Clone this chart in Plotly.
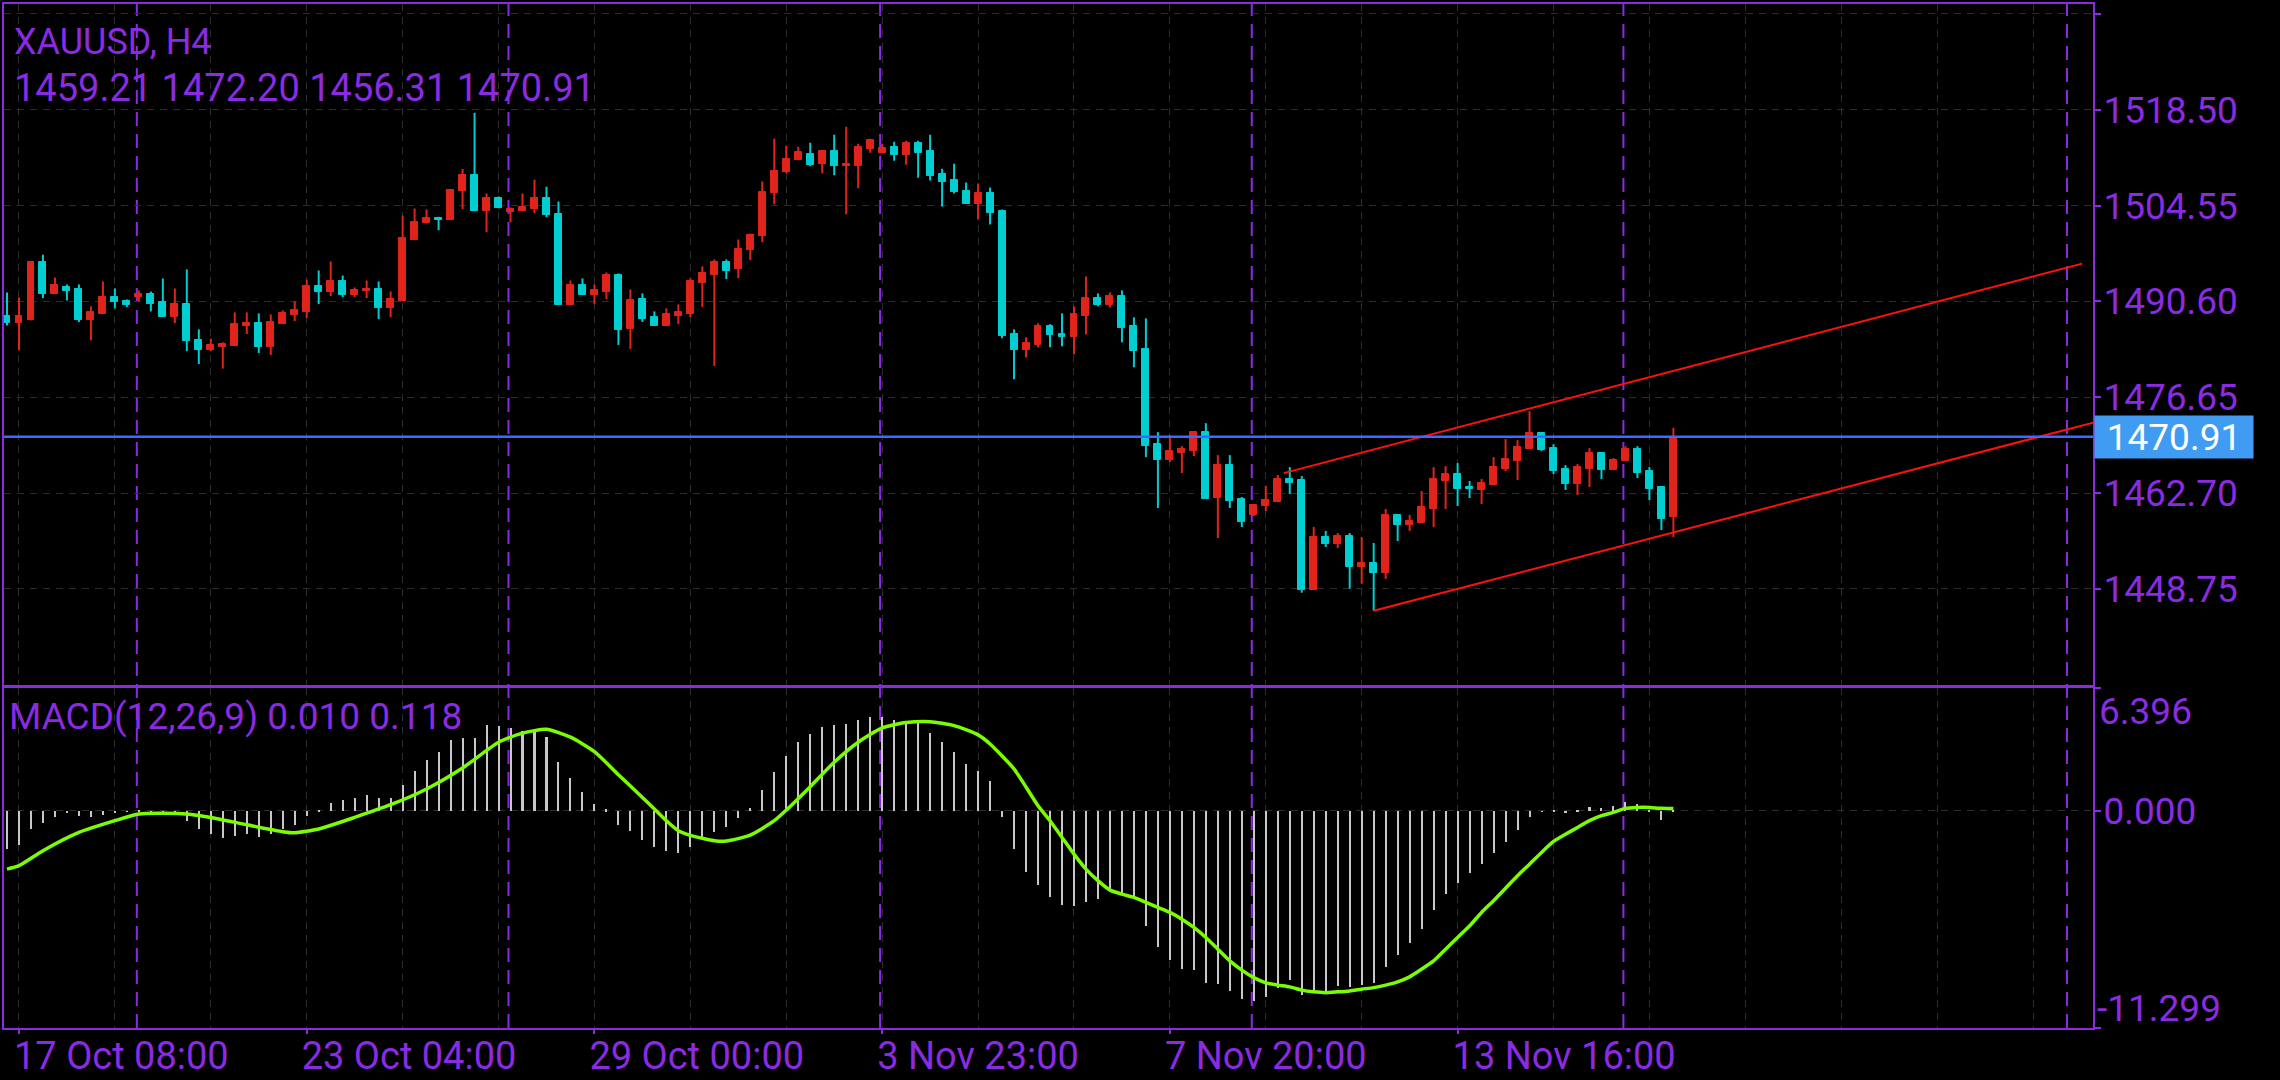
import plotly.graph_objects as go

# XAUUSD H4 candles, bar index 0..139
opens = [1488.42, 1487.45, 1487.93, 1496.41, 1491.66, 1492.73, 1492.34, 1487.83, 1488.76, 1491.18,
         1490.69, 1491.23, 1491.61, 1490.45, 1488.32, 1490.16, 1484.93, 1483.52, 1483.96, 1484.11,
         1487.01, 1487.40, 1483.96, 1487.30, 1488.61, 1489.05, 1492.78, 1491.95, 1493.50, 1491.52,
         1492.15, 1492.34, 1489.63, 1490.64, 1499.51, 1501.98, 1502.81, 1502.42, 1506.64, 1509.06,
         1503.73, 1505.72, 1503.58, 1503.73, 1504.02, 1505.72, 1503.39, 1490.07, 1492.93, 1491.52,
         1491.91, 1494.38, 1486.58, 1490.89, 1488.28, 1487.02, 1488.47, 1488.76, 1493.27, 1494.43,
         1496.27, 1495.30, 1498.06, 1500.10, 1506.35, 1509.40, 1511.14, 1512.11, 1510.56, 1512.55,
         1510.27, 1510.27, 1512.84, 1512.26, 1513.13, 1511.96, 1513.71, 1512.55, 1509.20, 1508.33,
         1506.73, 1504.84, 1506.44, 1503.83, 1485.81, 1483.48, 1484.21, 1486.97, 1485.81, 1485.37,
         1488.42, 1491.04, 1490.02, 1491.33, 1486.97, 1483.63, 1469.82, 1467.50, 1468.51, 1468.80,
         1471.57, 1461.97, 1466.77, 1461.83, 1459.50, 1460.81, 1461.39, 1464.74, 1464.59, 1448.60,
         1456.31, 1455.29, 1456.45, 1451.95, 1452.53, 1451.08, 1459.50, 1458.05, 1458.34, 1460.38,
         1464.45, 1465.46, 1463.57, 1463.14, 1463.86, 1466.19, 1467.35, 1469.10, 1471.42, 1469.24,
         1466.19, 1464.01, 1466.19, 1468.51, 1466.04, 1467.35, 1469.10, 1465.90, 1463.57, 1459.21]
highs = [1491.90, 1491.18, 1496.41, 1497.38, 1494.08, 1493.07, 1493.07, 1489.87, 1493.50, 1492.49,
         1490.89, 1492.19, 1492.05, 1493.94, 1492.49, 1495.25, 1486.53, 1485.17, 1484.64, 1489.00,
         1489.00, 1488.85, 1488.71, 1489.29, 1490.60, 1493.79, 1495.10, 1496.41, 1494.37, 1492.63,
         1493.65, 1493.50, 1492.05, 1503.09, 1504.11, 1503.97, 1502.91, 1506.98, 1509.88, 1518.07,
         1506.30, 1505.86, 1504.26, 1506.30, 1508.33, 1507.31, 1505.13, 1493.65, 1493.95, 1493.07,
         1494.82, 1494.67, 1492.35, 1491.77, 1489.15, 1489.59, 1490.17, 1493.95, 1495.69, 1496.71,
         1496.71, 1499.61, 1500.48, 1508.04, 1514.29, 1513.27, 1513.13, 1513.71, 1512.55, 1514.87,
         1516.03, 1513.56, 1514.29, 1513.56, 1513.85, 1514.00, 1514.00, 1514.87, 1509.93, 1510.66,
         1507.90, 1507.75, 1507.17, 1503.97, 1486.53, 1485.37, 1487.41, 1487.26, 1488.86, 1489.88,
         1494.24, 1491.77, 1491.91, 1492.20, 1488.28, 1488.13, 1471.57, 1471.13, 1469.53, 1471.71,
         1472.87, 1468.22, 1468.22, 1462.12, 1461.10, 1463.72, 1465.32, 1466.48, 1465.17, 1457.76,
         1457.18, 1456.89, 1456.89, 1456.31, 1455.44, 1460.38, 1459.50, 1459.50, 1462.99, 1466.48,
         1466.62, 1467.06, 1464.45, 1464.74, 1467.93, 1470.55, 1470.40, 1474.62, 1471.57, 1469.82,
         1466.77, 1466.92, 1469.24, 1468.51, 1467.79, 1469.53, 1469.53, 1466.48, 1463.57, 1472.20]
lows = [1487.11, 1483.47, 1487.83, 1491.08, 1491.66, 1490.74, 1487.59, 1484.93, 1488.76, 1489.58,
        1489.77, 1490.60, 1489.14, 1488.32, 1487.45, 1483.38, 1481.49, 1483.33, 1480.81, 1484.11,
        1485.85, 1483.09, 1482.80, 1487.30, 1487.74, 1488.17, 1490.21, 1491.37, 1491.23, 1491.23,
        1491.08, 1488.03, 1488.32, 1490.64, 1499.51, 1501.98, 1500.97, 1502.42, 1504.02, 1503.73,
        1500.68, 1504.17, 1502.13, 1503.73, 1503.44, 1502.86, 1490.07, 1490.07, 1491.52, 1490.22,
        1490.94, 1484.26, 1483.68, 1487.60, 1487.02, 1487.02, 1487.31, 1488.33, 1489.78, 1481.21,
        1493.85, 1493.99, 1496.61, 1499.23, 1504.75, 1509.25, 1511.14, 1510.27, 1509.25, 1508.96,
        1503.29, 1507.07, 1512.26, 1512.26, 1511.09, 1510.51, 1508.62, 1508.19, 1504.41, 1506.30,
        1504.84, 1502.52, 1501.79, 1485.23, 1479.27, 1482.46, 1483.92, 1483.92, 1484.06, 1482.90,
        1485.81, 1489.88, 1489.73, 1484.64, 1481.01, 1467.93, 1460.52, 1467.21, 1465.61, 1468.08,
        1461.83, 1456.16, 1460.52, 1457.76, 1459.36, 1460.09, 1461.39, 1462.56, 1448.17, 1448.60,
        1454.85, 1454.71, 1448.75, 1449.48, 1445.55, 1450.20, 1455.73, 1457.18, 1458.34, 1457.76,
        1460.38, 1460.81, 1461.97, 1461.10, 1463.86, 1465.90, 1464.59, 1469.10, 1468.80, 1465.46,
        1463.14, 1462.41, 1463.57, 1464.74, 1466.04, 1467.35, 1464.88, 1461.68, 1457.32, 1456.31]
closes = [1487.45, 1488.42, 1496.41, 1491.66, 1492.92, 1492.10, 1487.83, 1489.00, 1491.18, 1490.50,
          1490.06, 1491.61, 1490.21, 1488.32, 1490.16, 1484.83, 1483.52, 1484.20, 1484.35, 1487.25,
          1487.40, 1483.96, 1487.54, 1488.85, 1489.29, 1492.78, 1491.95, 1493.50, 1491.52, 1492.19,
          1492.34, 1489.63, 1490.89, 1499.90, 1502.22, 1502.80, 1502.42, 1506.88, 1509.06, 1503.73,
          1505.72, 1504.17, 1504.12, 1504.31, 1505.72, 1503.15, 1490.07, 1492.93, 1491.52, 1492.20,
          1494.38, 1486.44, 1490.75, 1487.99, 1487.02, 1488.71, 1489.00, 1493.51, 1494.67, 1496.27,
          1495.01, 1498.30, 1500.34, 1506.59, 1509.64, 1511.38, 1512.40, 1510.41, 1512.55, 1510.27,
          1510.66, 1513.13, 1514.14, 1512.98, 1511.96, 1513.71, 1512.26, 1508.91, 1508.04, 1506.59,
          1504.84, 1506.44, 1503.54, 1485.52, 1483.48, 1484.50, 1486.97, 1485.66, 1485.42, 1488.71,
          1491.04, 1490.02, 1491.33, 1486.68, 1483.34, 1469.53, 1467.50, 1468.80, 1469.10, 1471.57,
          1461.83, 1466.77, 1461.54, 1458.49, 1460.96, 1461.68, 1464.74, 1464.15, 1448.60, 1456.31,
          1455.29, 1456.45, 1451.95, 1452.53, 1451.08, 1459.50, 1458.05, 1458.63, 1460.67, 1464.74,
          1465.46, 1463.28, 1463.28, 1464.15, 1466.48, 1467.64, 1469.39, 1471.42, 1468.95, 1465.90,
          1464.01, 1466.48, 1468.51, 1466.04, 1467.50, 1469.10, 1465.61, 1463.28, 1458.92, 1470.91]

# MACD(12,26,9) main values drawn as histogram
macd_hist = [-1.96, -1.77, -0.92, -0.61, -0.31, -0.10, -0.26, -0.31, -0.21, -0.10,
             -0.05, 0.02, -0.03, -0.09, -0.09, -0.52, -0.92, -1.18, -1.39, -1.28,
             -1.18, -1.34, -1.18, -0.92, -0.73, -0.26, 0.05, 0.42, 0.57, 0.68,
             0.83, 0.68, 0.68, 1.35, 2.08, 2.65, 3.07, 3.70, 3.80, 3.80,
             4.48, 4.42, 4.32, 4.16, 4.16, 3.85, 2.55, 1.72, 0.99, 0.36,
             0.10, -0.73, -1.04, -1.51, -1.87, -2.08, -2.19, -1.87, -1.35, -1.09,
             -0.83, -0.36, 0.16, 1.09, 2.03, 2.86, 3.59, 4.01, 4.37, 4.48,
             4.53, 4.74, 4.89, 4.89, 4.74, 4.63, 4.58, 4.06, 3.59, 3.07,
             2.45, 2.08, 1.56, -0.31, -1.98, -3.18, -3.85, -4.48, -4.89, -4.94,
             -4.74, -4.58, -4.16, -4.27, -4.48, -5.99, -7.08, -7.76, -8.22, -8.28,
             -8.95, -9.01, -9.37, -9.79, -9.89, -9.68, -9.21, -8.80, -9.58, -9.37,
             -9.42, -9.11, -9.16, -9.06, -8.95, -8.12, -7.50, -6.87, -6.14, -5.15,
             -4.32, -3.75, -3.23, -2.76, -2.19, -1.61, -0.99, -0.31, -0.03, 0.03,
             -0.07, 0.02, 0.19, 0.16, 0.26, 0.47, 0.35, 0.03, -0.49, 0.010]

# signal line, read at these bars
sig_idx = [0, 1, 3, 6, 9, 11, 13, 15, 17, 20, 23, 24, 26, 29, 32, 35, 38, 41,
           43, 45, 47, 49, 51, 53, 54, 55, 56, 57, 59, 60, 62, 64, 65, 67, 69, 71,
           73, 75, 77, 79, 81, 82, 84, 86] + list(range(87, 140))
sig_val = [-3.04, -2.86, -2.08, -1.13, -0.52, -0.17, -0.14, -0.17, -0.35, -0.73,
           -1.09, -1.15, -0.95, -0.35, 0.31, 1.13, 2.22, 3.56,
           4.03, 4.23, 3.82, 3.07, 1.87, 0.69, 0.09, -0.52, -1.04, -1.28, -1.56, -1.58,
           -1.27, -0.52, 0.03, 1.25, 2.52, 3.56, 4.30, 4.58, 4.63, 4.42, 3.94, 3.47,
           2.17, 0.26,
           -0.52, -1.39, -2.26, -3.04, -3.64, -4.13, -4.34, -4.51, -4.77, -5.03,
           -5.29, -5.64, -6.07, -6.59, -7.20, -7.81, -8.29, -8.68, -8.95, -9.07,
           -9.16, -9.33, -9.42, -9.46, -9.42, -9.37, -9.28, -9.20, -9.07, -8.90,
           -8.64, -8.24, -7.81, -7.20, -6.59, -5.99, -5.29, -4.68, -4.03, -3.38,
           -2.78, -2.17, -1.60, -1.23, -0.87, -0.52, -0.26, -0.09, 0.12, 0.17,
           0.17, 0.12, 0.118]

# trend channel drawn on the chart
chan_up_x = [106.5, 173.1]
chan_up_y = [1465.6, 1496.1]
chan_lo_x = [114, 175]
chan_lo_y = [1445.55, 1473.4]

# weekly period separators
week_breaks = [10.83, 41.83, 72.83, 103.83, 134.83, 171.83]

tick_idx = [1, 25, 49, 73, 97, 121]
tick_text = ["17 Oct 08:00", "23 Oct 04:00", "29 Oct 00:00",
             "3 Nov 23:00", "7 Nov 20:00", "13 Nov 16:00"]
price_ticks = [1448.75, 1462.70, 1476.65, 1490.60, 1504.55, 1518.50, 1532.45]

PURPLE = "#8A2BE2"
RED = "#E0241B"
CYAN = "#00CED1"
GRID = "#2C2C2C"
FONT = "Roboto"

idx = list(range(len(opens)))
up = [c >= o for o, c in zip(opens, closes)]

fig = go.Figure()

# wicks
for flag, col in ((True, RED), (False, CYAN)):
    wx, wy = [], []
    for i in idx:
        if up[i] == flag:
            wx += [i, i, None]
            wy += [lows[i], highs[i], None]
    fig.add_trace(go.Scatter(x=wx, y=wy, mode="lines", line=dict(color=col, width=2),
                             hoverinfo="skip", showlegend=False))

# bodies
for flag, col in ((True, RED), (False, CYAN)):
    sel = [i for i in idx if up[i] == flag]
    fig.add_trace(go.Bar(x=sel,
                         base=[min(opens[i], closes[i]) for i in sel],
                         y=[abs(closes[i] - opens[i]) for i in sel],
                         width=0.58,
                         marker=dict(color=col, line=dict(color=col, width=1)),
                         showlegend=False))

# channel
fig.add_trace(go.Scatter(x=chan_up_x, y=chan_up_y, mode="lines",
                         line=dict(color="#FF1010", width=2), showlegend=False))
fig.add_trace(go.Scatter(x=chan_lo_x, y=chan_lo_y, mode="lines",
                         line=dict(color="#FF1010", width=2), showlegend=False))

# MACD
fig.add_trace(go.Bar(x=idx, y=macd_hist, width=0.17, marker=dict(color="#C8C8C8", line=dict(width=0)),
                     xaxis="x2", yaxis="y2", showlegend=False))
fig.add_trace(go.Scatter(x=sig_idx, y=sig_val, mode="lines",
                         line=dict(color="#7CFC00", width=3.5, shape="spline", smoothing=0.6),
                         xaxis="x2", yaxis="y2", showlegend=False))

grid_dash = "7px,6px"
minor_grid = dict(tickmode="linear", tick0=1, dtick=8, showgrid=True, gridcolor=GRID,
                  griddash=grid_dash, gridwidth=1, ticks="")

shapes = []
for b in week_breaks:
    shapes.append(dict(type="line", xref="x", yref="paper", x0=b, x1=b, y0=0, y1=1,
                       line=dict(color=PURPLE, width=2, dash="14px,8px"), layer="below"))
# current price line
shapes.append(dict(type="line", xref="x domain", yref="y", x0=0, x1=1,
                   y0=closes[-1], y1=closes[-1], line=dict(color="#3D6BFF", width=2.5)))

ohlc = "{:.2f} {:.2f} {:.2f} {:.2f}".format(opens[-1], highs[-1], lows[-1], closes[-1])
header = "XAUUSD, H4<br><span style='font-size:38px'>" + ohlc + "</span>"
annotations = [
    dict(text=header, xref="paper", yref="paper", x=0.0040, y=0.9852,
         xanchor="left", yanchor="top", align="left", showarrow=False, font=dict(size=36)),
    dict(text="MACD(12,26,9) {:.3f} {:.3f}".format(macd_hist[-1], sig_val[-1]),
         xref="paper", yref="paper", x=0.0016, y=0.3270,
         xanchor="left", yanchor="top", showarrow=False, font=dict(size=37)),
    dict(text="6.396", xref="paper", yref="paper", x=1, xshift=4, y=0.33236,
         xanchor="left", yanchor="top", showarrow=False, font=dict(size=37)),
    dict(text="-11.299", xref="paper", yref="paper", x=1, xshift=2, y=0, yshift=-4,
         xanchor="left", yanchor="bottom", showarrow=False, font=dict(size=37)),
    dict(text="{:.2f}".format(closes[-1]), xref="paper", yref="y", x=1, xshift=1,
         y=closes[-1], xanchor="left", yanchor="middle", showarrow=False,
         bgcolor="#3F9CF2", font=dict(color="white", size=37), width=154, height=38,
         borderpad=2),
]

axis_common = dict(showline=True, linecolor=PURPLE, linewidth=2, mirror=True, zeroline=False)

fig.update_layout(
    width=2280, height=1080,
    margin=dict(l=2, r=187, t=2, b=52),
    paper_bgcolor="black", plot_bgcolor="black",
    barmode="overlay", bargap=0, showlegend=False,
    font=dict(family=FONT, size=37, color=PURPLE),
    xaxis=dict(domain=[0, 1], anchor="y", range=[-0.25, 174.0],
               tickmode="array", tickvals=tick_idx, showticklabels=False, ticks="",
               showgrid=True, gridcolor=GRID, griddash=grid_dash, gridwidth=1,
               minor=minor_grid, **axis_common),
    yaxis=dict(domain=[0.33528, 1], anchor="x", side="right", range=[1434.80, 1533.90],
               tickmode="array", tickvals=price_ticks,
               ticktext=["{:.2f}".format(v) if v < 1530 else "" for v in price_ticks],
               ticks="outside", ticklen=6, tickcolor=PURPLE, tickwidth=2, ticklabelstandoff=-5,
               showgrid=True, gridcolor=GRID, griddash=grid_dash, gridwidth=1, **axis_common),
    xaxis2=dict(domain=[0, 1], anchor="y2", matches="x", range=[-0.25, 174.0],
                tickmode="array", tickvals=tick_idx, ticktext=tick_text,
                tickfont=dict(size=38),
                ticks="outside", ticklen=4, tickcolor=PURPLE, tickwidth=2,
                ticklabelposition="outside right", ticklabelshift=-7, ticklabelstandoff=-7,
                showgrid=True, gridcolor=GRID, griddash=grid_dash, gridwidth=1,
                minor=minor_grid, **axis_common),
    yaxis2=dict(domain=[0, 0.33236], anchor="x2", side="right", range=[-11.299, 6.396],
                tickmode="array", tickvals=[-11.299, 0, 6.396], ticktext=["", "0.000", ""],
                ticks="outside", ticklen=6, tickcolor=PURPLE, tickwidth=2, ticklabelstandoff=-5,
                showgrid=True, gridcolor=GRID, griddash=grid_dash, gridwidth=1, **axis_common),
    shapes=shapes,
    annotations=annotations,
)

fig.write_html("out.html", config={"displayModeBar": False},
               post_script="document.body.style.margin='0';document.body.style.overflow='hidden';")
